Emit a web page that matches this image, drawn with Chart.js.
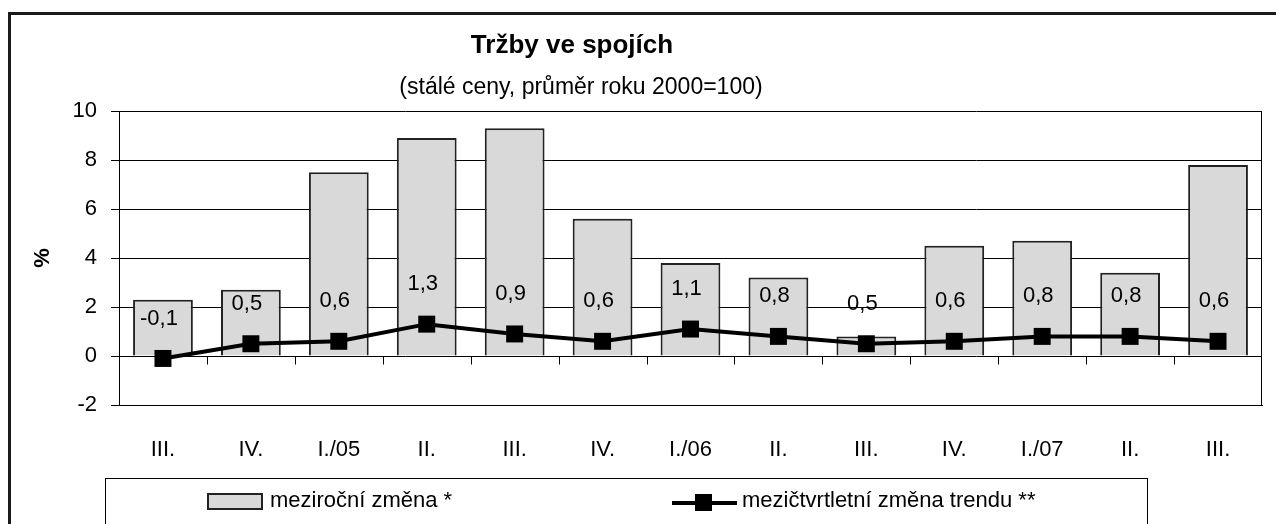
<!DOCTYPE html>
<html lang="cs">
<head>
<meta charset="utf-8">
<title>Tržby ve spojích</title>
<script src="https://cdn.jsdelivr.net/npm/chart.js@4.4.0/dist/chart.umd.min.js"></script>
<style>
    html, body { margin: 0; padding: 0; background: #fff; }
    #page {
        position: relative; width: 1276px; height: 524px; overflow: hidden;
        font-family: "Liberation Sans", Arial, sans-serif; color: #000;
    }
    #frame {
        position: absolute; left: 8px; top: 12px; width: 1400px; height: 600px;
        border: 3px solid #1a1a1a;
    }
    #trzbyChart { position: absolute; left: 0; top: 0; }
    .txt { position: absolute; white-space: nowrap; line-height: 1; }
    #title { left: 572px; top: 31px; font-size: 26px; font-weight: bold; transform: translateX(-50%); }
    #subtitle { left: 581px; top: 75px; font-size: 23px; transform: translateX(-50%); }
    #legendBox {
        position: absolute; left: 105px; top: 478px; width: 1041px; height: 100px;
        border: 1px solid #000;
    }
    .legend-text { font-size: 22px; top: 489px; }
    #legendBar {
        position: absolute; left: 207px; top: 493px; width: 56px; height: 17px;
        box-sizing: border-box; background: #d9d9d9; border: 2px solid #222;
    }
    #legendLine { position: absolute; left: 672px; top: 501px; width: 65px; height: 4px; background: #000; }
    #legendMarker { position: absolute; left: 695px; top: 494px; width: 17px; height: 17px; background: #000; }
</style>
</head>
<body>
<div id="page">
    <div id="frame"></div>
    <canvas id="trzbyChart" width="1276" height="524"></canvas>
    <div id="title" class="txt">Tržby ve spojích</div>
    <div id="subtitle" class="txt">(stálé ceny, průměr roku 2000=100)</div>
    <div id="legendBox"></div>
    <div id="legendBar"></div>
    <div class="txt legend-text" style="left:270px">meziroční změna *</div>
    <div id="legendLine"></div>
    <div id="legendMarker"></div>
    <div class="txt legend-text" style="left:742px">mezičtvrtletní změna trendu **</div>
</div>
<script>
const quarters = ["III.", "IV.", "I./05", "II.", "III.", "IV.", "I./06", "II.", "III.", "IV.", "I./07", "II.", "III."];
const yearOnYear = [2.3, 2.7, 7.5, 8.9, 9.3, 5.6, 3.8, 3.2, 0.8, 4.5, 4.7, 3.4, 7.8];
const trendChange = [-0.1, 0.5, 0.6, 1.3, 0.9, 0.6, 1.1, 0.8, 0.5, 0.6, 0.8, 0.8, 0.6];
const yTicks = [-2, 0, 2, 4, 6, 8, 10];

const FONT = "'Liberation Sans', Arial, sans-serif";

/**
 * right border of the plot and the small category ticks on the zero line
 */
const plotFrame = {
    id: "plotFrame",
    beforeDatasetsDraw(chart) {
        const { ctx, chartArea, scales } = chart;
        const x = scales.x;
        const zero = Math.round(scales.y.getPixelForValue(0)) + 0.5;
        ctx.save();
        ctx.strokeStyle = "#000";
        ctx.lineWidth = 1;
        ctx.beginPath();
        ctx.moveTo(Math.round(chartArea.right) - 0.5, chartArea.top);
        ctx.lineTo(Math.round(chartArea.right) - 0.5, chartArea.bottom);
        for (let i = 1; i < quarters.length; i++) {
            const px = Math.round((x.getPixelForValue(i - 1) + x.getPixelForValue(i)) / 2) + 0.5;
            ctx.moveTo(px, zero);
            ctx.lineTo(px, zero + 8);
        }
        ctx.stroke();
        ctx.restore();
    },
};

/**
 * value labels above the trend markers
 */
const pointLabels = {
    id: "pointLabels",
    afterDatasetsDraw(chart) {
        const { ctx } = chart;
        const meta = chart.getDatasetMeta(1);
        ctx.save();
        ctx.font = "22px " + FONT;
        ctx.fillStyle = "#000";
        ctx.textAlign = "center";
        ctx.textBaseline = "middle";
        meta.data.forEach((pt, i) => {
            const label = trendChange[i].toFixed(1).replace(".", ",");
            ctx.fillText(label, pt.x - 4, pt.y - 40);
        });
        ctx.restore();
    },
};

/**
 *
 */
function _renderTrzbyChart() {
    Chart.defaults.font.family = FONT;
    Chart.defaults.color = "#000";

    const data = {
        labels: quarters,
        datasets: [
            {
                type: "bar",
                label: "meziroční změna *",
                data: yearOnYear,
                backgroundColor: "#d9d9d9",
                borderColor: "#222",
                borderWidth: 2,
                barPercentage: 0.68,
                categoryPercentage: 1,
                order: 2,
            },
            {
                type: "line",
                label: "mezičtvrtletní změna trendu **",
                data: trendChange,
                borderColor: "#000",
                backgroundColor: "#000",
                borderWidth: 4,
                pointStyle: "rect",
                pointRadius: 12,
                pointHoverRadius: 12,
                pointBorderWidth: 0,
                tension: 0,
                order: 1,
            },
        ],
    };

    const config = {
        type: "bar",
        data: data,
        options: {
            responsive: false,
            animation: false,
            devicePixelRatio: 1,
            layout: {
                padding: { top: 111, right: 14, bottom: 0, left: 0 },
            },
            scales: {
                x: {
                    offset: true,
                    grid: { display: false },
                    border: { display: true, color: "#000", width: 1 },
                    ticks: {
                        font: { size: 22 },
                        padding: 24,
                        maxRotation: 0,
                        autoSkip: false,
                    },
                    afterFit: (scale) => {
                        scale.height = 119;
                    },
                },
                y: {
                    min: yTicks[0],
                    max: yTicks[yTicks.length - 1],
                    grid: { color: "#000", lineWidth: 1, tickLength: 8 },
                    border: { display: true, color: "#000", width: 1 },
                    ticks: {
                        stepSize: yTicks[1] - yTicks[0],
                        font: { size: 22 },
                        padding: 14,
                    },
                    title: {
                        display: true,
                        text: "%",
                        font: { size: 22, weight: "bold" },
                        padding: { top: 30, bottom: 0 },
                    },
                    afterFit: (scale) => {
                        scale.width = 119;
                    },
                },
            },
            plugins: {
                legend: { display: false },
                title: { display: false },
                tooltip: { enabled: false },
            },
        },
        plugins: [plotFrame, pointLabels],
    };

    new Chart(document.getElementById("trzbyChart"), config);
}

_renderTrzbyChart();
</script>
</body>
</html>
